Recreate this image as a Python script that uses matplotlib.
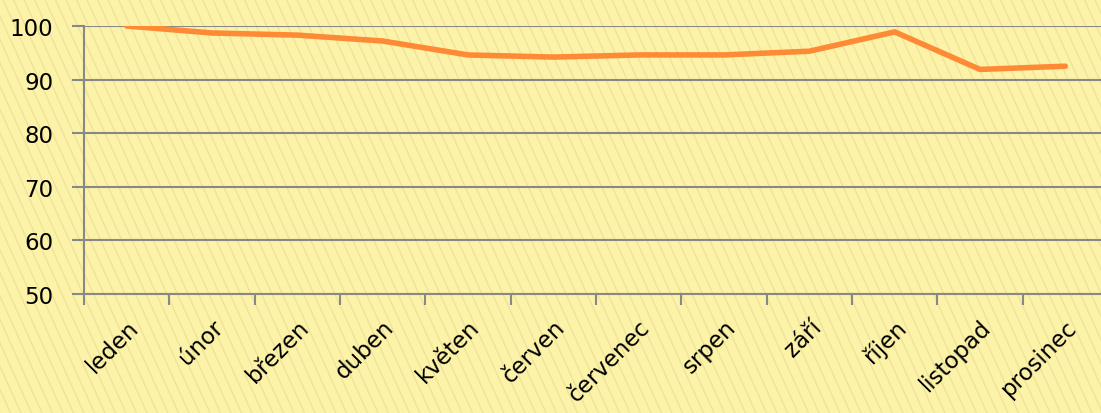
import numpy as np
import matplotlib.pyplot as plt
from matplotlib.collections import LineCollection

# data
months = ['leden', 'únor', 'březen', 'duben', 'květen', 'červen',
          'červenec', 'srpen', 'září', 'říjen', 'listopad', 'prosinec']
values = [100.0, 98.7, 98.3, 97.2, 94.6, 94.2, 94.6, 94.6, 95.3, 98.9, 91.9, 92.5]
yticks = [50, 60, 70, 80, 90, 100]

plt.rcParams['font.family'] = ['DejaVu Sans']

W, H = 1101, 414
fig = plt.figure(figsize=(W/100, H/100), dpi=100)
fig.patch.set_facecolor('#fcf3a8')

# background with steep diagonal stripes
bg = fig.add_axes([0, 0, 1, 1], zorder=-10)
bg.set_xlim(0, W)
bg.set_ylim(H, 0)
bg.axis('off')
segs = [[(x0, 0), (x0 + 0.45*H, H)] for x0 in np.arange(-0.45*H, W, 10.5)]
bg.add_collection(LineCollection(segs, colors='#efe39b', linewidths=1.0))

ax = fig.add_axes([84/W, 1 - 295/H, 1024/W, 268/H])
ax.patch.set_alpha(0)

x = np.arange(len(months))
ax.plot(x + 0.5, values, color='#ff8a36', lw=4, solid_capstyle='round', zorder=3)

ax.set_xlim(0, len(months))
ax.set_ylim(50, 100)
ax.set_yticks(yticks)
ax.set_xticks(x)
ax.set_xticks(x + 0.5, minor=True)
ax.set_xticklabels([])
ax.set_xticklabels(months, minor=True, rotation=45, ha='right', va='top',
                   rotation_mode='anchor', fontsize=16.5)
ax.tick_params(axis='x', which='minor', length=0, pad=15)
ax.tick_params(axis='x', which='major', length=8, width=1.5, color='#888888', direction='out')
ax.tick_params(axis='y', length=9, width=1.5, color='#888888', labelsize=16.5, pad=13)

ax.grid(axis='y', color='#888888', lw=1.5, zorder=1)
ax.set_axisbelow(True)
for s in ['top', 'right']:
    ax.spines[s].set_visible(False)
for s in ['left', 'bottom']:
    ax.spines[s].set_color('#888888')
    ax.spines[s].set_linewidth(1.5)

fig.savefig('out.png', dpi=100, facecolor=fig.get_facecolor())
